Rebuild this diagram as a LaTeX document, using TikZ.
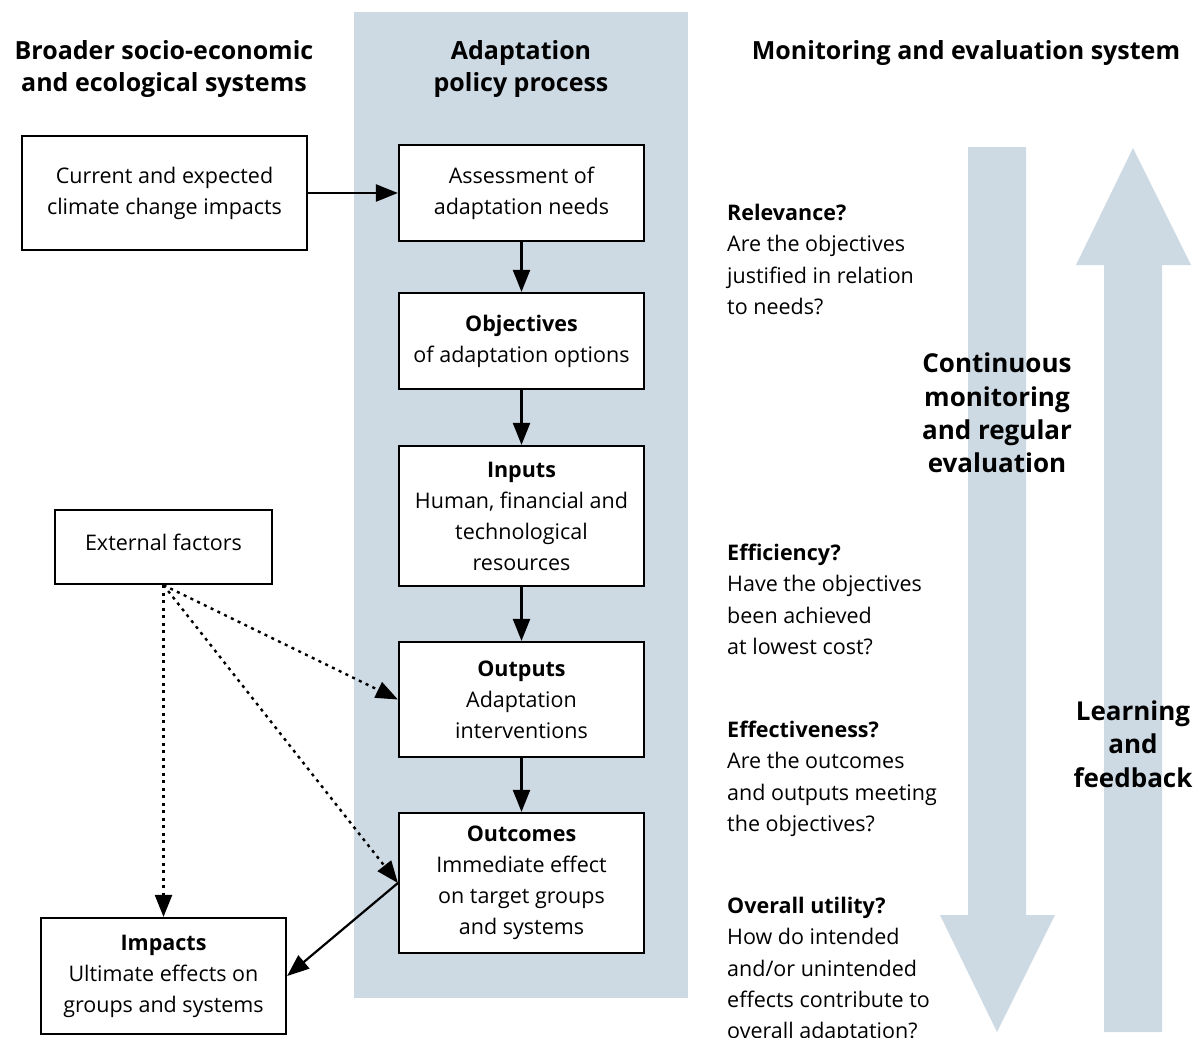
\documentclass[tikz,border=0pt]{standalone}
\usepackage{fontspec}
\setmainfont{Open Sans}
\usetikzlibrary{arrows.meta}
\definecolor{colbg}{HTML}{CDD9E3}
\begin{document}
\begin{tikzpicture}[x=1pt,y=-1pt,
  box/.style={draw, line width=2.2pt, fill=white, align=center, inner sep=0pt,
    font=\fontsize{21.5}{31}\selectfont},
  head/.style={align=center, inner sep=0pt, font=\bfseries\fontsize{25}{32}\selectfont},
  side/.style={align=left, inner sep=0pt, anchor=north west, font=\fontsize{21.5}{31.3}\selectfont},
  big/.style={align=center, inner sep=0pt, font=\bfseries\fontsize{26}{33.4}\selectfont},
  flow/.style={line width=2.2pt, -{Triangle[length=22pt,width=17pt]}},
  ext/.style={line width=2.4pt, dash pattern=on 3pt off 4.5pt, -{Triangle[length=22pt,width=17pt]}},
  bigarrow/.style={fill=colbg, draw=none}
]
\useasboundingbox (0,0) rectangle (1199,1037);
% background column
\fill[colbg] (354,12) rectangle (688,998);
% big arrows
\path[bigarrow] (968,147) -- (1026,147) -- (1026,915) -- (1055,915) -- (997,1032) -- (940,915) -- (968,915) -- cycle;
\path[bigarrow] (1133,148) -- (1191,265) -- (1162,265) -- (1162,1032) -- (1104,1032) -- (1104,265) -- (1076,265) -- cycle;
% headings
\node[head] (h1) at (164,69) {Broader socio-economic\\and ecological systems};
\node[head] (h2) at (521,69) {Adaptation\\policy process};
\node[head] (h3) at (966,53) {Monitoring and evaluation system};
% boxes
\node[box, minimum width=285pt, minimum height=114pt] (current) at (164.5,193) {Current and expected\\climate change impacts};
\node[box, minimum width=245pt, minimum height=96pt] (assess) at (521.5,193) {Assessment of\\adaptation needs};
\node[box, minimum width=245pt, minimum height=96pt] (obj) at (521.5,341) {\textbf{Objectives}\\of adaptation options};
\node[box, minimum width=245pt, minimum height=140pt] (inputs) at (521.5,516) {\textbf{Inputs}\\Human, financial and\\technological\\resources};
\node[box, minimum width=245pt, minimum height=115pt] (outputs) at (521.5,699.5) {\textbf{Outputs}\\Adaptation\\interventions};
\node[box, minimum width=245pt, minimum height=140pt] (outcomes) at (521.5,883) {\textbf{Outcomes}\\Immediate effect\\on target groups\\and systems};
\node[box, minimum width=217pt, minimum height=74pt] (external) at (163.5,547) {\raisebox{5pt}[\height][\depth]{External factors}};
\node[box, minimum width=245pt, minimum height=116pt] (impacts) at (163.5,976) {\textbf{Impacts}\\Ultimate effects on\\groups and systems};
% connectors
\draw[flow] (current) -- (assess);
\draw[flow] (assess) -- (obj);
\draw[flow] (obj) -- (inputs);
\draw[flow] (inputs) -- (outputs);
\draw[flow] (outputs) -- (outcomes);
\draw[flow] (outcomes.west) -- (impacts.east);
\draw[ext] (external.south) -- (outputs.west);
\draw[ext] (external.south) -- (outcomes.west);
\draw[ext] (external.south) -- (impacts.north);
% side texts
\node[side] (rel) at (727,204) {\textbf{Relevance?}\\Are the objectives\\justified in relation\\to needs?};
\node[side] (eff) at (727,544) {\textbf{Efficiency?}\\Have the objectives\\been achieved\\at lowest cost?};
\node[side] (effe) at (727,721) {\textbf{Effectiveness?}\\Are the outcomes\\and outputs meeting\\the objectives?};
\node[side] (util) at (727,897) {\textbf{Overall utility?}\\How do intended\\and/or unintended\\effects contribute to\\overall adaptation?};
% arrow labels
\node[big] (cm) at (997,413) {Continuous\\monitoring\\and regular\\evaluation};
\node[big] (lf) at (1133,744) {Learning\\and\\feedback};
\end{tikzpicture}
\end{document}
